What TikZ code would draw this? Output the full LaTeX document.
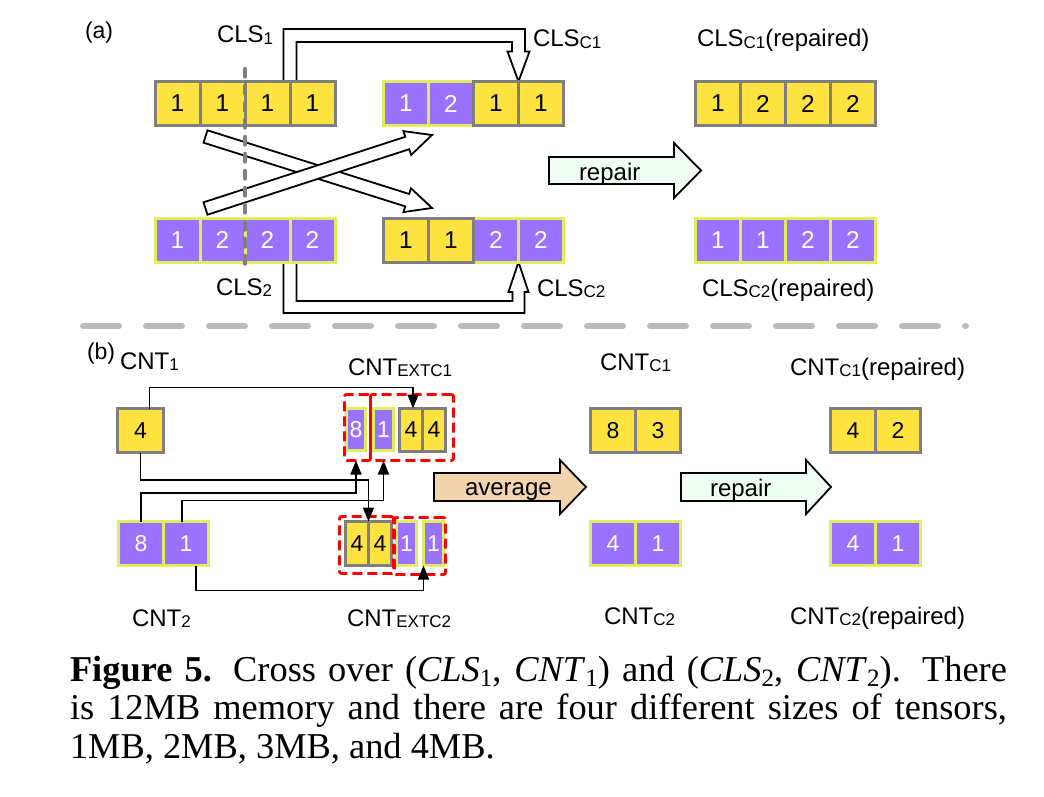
\documentclass[tikz,border=0pt]{standalone}
\usepackage{fontspec}
\setmainfont{Liberation Sans}
\newfontfamily\capfont{Liberation Serif}
\usetikzlibrary{calc,arrows.meta,backgrounds}
\definecolor{cyel}{HTML}{FFE341}
\definecolor{cpur}{HTML}{9B72FF}
\definecolor{cgry}{HTML}{7F7F7F}
\definecolor{cgrn}{HTML}{DFEE5C}
\definecolor{cmint}{HTML}{EEFEF3}
\definecolor{ctan}{HTML}{F2D5AE}
\definecolor{csep}{HTML}{BBBBBB}
\newcommand\lsub[1]{\raisebox{-0.8pt}{\fontsize{8.5}{9}\selectfont #1}}
\newcommand\capsub[1]{\raisebox{-0.35ex}{\fontsize{12.5}{12.5}\selectfont #1}}
\tikzset{
 cellbase/.style={rectangle, inner sep=0pt, outer sep=0pt, line width=1.5pt, font=\fontsize{12.2}{13}\selectfont, minimum width=22.5pt, minimum height=22pt},
 ycell/.style={cellbase, fill=cyel, draw=cgry, text=black},
 pcell/.style={cellbase, fill=cpur, draw=cgrn, text=white},
 bcell/.style={font=\fontsize{11.5}{12}\selectfont},
 lbl/.style={anchor=base west, inner sep=0pt, outer sep=0pt, font=\fontsize{12}{14}\selectfont},
 hollowarr/.style={draw=black, fill=white, line width=0.9pt, line join=miter},
 blockarr/.style={draw=black, line width=0.9pt, line join=miter},
 redbox/.style={draw=red, dash pattern=on 5pt off 2.5pt, line width=1.4pt, rounded corners=1pt, inner sep=0pt, outer sep=0pt, fill=none},
 conn/.style={draw=black, line width=0.8pt, -{Triangle[length=7pt,width=5.5pt]}},
 sepline/.style={draw=csep, line width=3pt, line cap=round, dash pattern=on 18pt off 13.5pt},
 vdashline/.style={draw=cgry, line width=2.25pt, line cap=round, dash pattern=on 3.75pt off 4.75pt},
 capstyle/.style={anchor=base west, inner sep=0pt, outer sep=0pt, font=\capfont\fontsize{18.2}{21}\selectfont},
}
\newcommand\slantarrow[2]{%
  \path ($(#2)!13pt!(#1)$) coordinate (tmpB);
  \filldraw[hollowarr] ($(#1)!3.25pt!90:(#2)$) -- ($(tmpB)!3.25pt!90:(#2)$) -- ($(tmpB)!6.25pt!90:(#2)$) -- (#2)
   -- ($(tmpB)!6.25pt!-90:(#2)$) -- ($(tmpB)!3.25pt!-90:(#2)$) -- ($(#1)!3.25pt!-90:(#2)$) -- cycle;
}
\begin{document}
\begin{tikzpicture}[x=0.5pt,y=-0.5pt]
\useasboundingbox (0,0) rectangle (1044,797);

% ---------------- (a) ----------------
\node[lbl, font=\fontsize{11.5}{13}\selectfont] (la) at (85,39) {(a)};
% CLS1
\foreach \i/\x in {1/177.5,2/222.5,3/267.5,4/312.5}
  \node[ycell] (a1c\i) at (\x,103.5) {1};
% CLSC1
\node[pcell] (c1c1) at (406,103.5) {1};
\node[pcell] (c1c2) at (451,103.5) {2};
\node[ycell] (c1c3) at (496,103.5) {1};
\node[ycell] (c1c4) at (541,103.5) {1};
% CLSC1 repaired
\node[ycell] (r1c1) at (718,103.5) {1};
\node[ycell] (r1c2) at (763,103.5) {2};
\node[ycell] (r1c3) at (808,103.5) {2};
\node[ycell] (r1c4) at (853,103.5) {2};
% CLS2
\node[pcell] (a2c1) at (177.5,240) {1};
\node[pcell] (a2c2) at (222.5,240) {2};
\node[pcell] (a2c3) at (267.5,240) {2};
\node[pcell] (a2c4) at (312.5,240) {2};
% CLSC2
\node[pcell] (c2c3) at (496,240) {2};
\node[pcell] (c2c4) at (541,240) {2};
\node[ycell] (c2c1) at (406,240) {1};
\node[ycell] (c2c2) at (451,240) {1};
% CLSC2 repaired
\node[pcell] (r2c1) at (718,240) {1};
\node[pcell] (r2c2) at (763,240) {1};
\node[pcell] (r2c3) at (808,240) {2};
\node[pcell] (r2c4) at (853,240) {2};

\node[lbl] (lcls1) at (217,43) {CLS\lsub{1}};
\node[lbl] (lclsc1) at (533,47) {CLS\lsub{C1}};
\node[lbl] (lclsr1) at (697,47) {CLS\lsub{C1}(repaired)};
\node[lbl] (lcls2) at (216,295) {CLS\lsub{2}};
\node[lbl] (lclsc2) at (537,296) {CLS\lsub{C2}};
\node[lbl] (lclsr2) at (702,296) {CLS\lsub{C2}(repaired)};

\begin{scope}[on background layer]
\filldraw[hollowarr] let \p1=(a1c3.north east), \p2=(c1c3.north east) in
 (\x1-3.25pt,\y1) -- (\x1-3.25pt,-14.5pt) -- (\x2+3.25pt,-14.5pt) -- (\x2+3.25pt,\y2+15pt)
 -- (\x2+5.5pt,\y2+15pt) -- (\x2,\y2) -- (\x2-5.5pt,\y2+15pt) -- (\x2-3.25pt,\y2+15pt)
 -- (\x2-3.25pt,-21pt) -- (\x1+3.25pt,-21pt) -- (\x1+3.25pt,\y1);
\filldraw[hollowarr] let \p1=(a2c3.south east), \p2=(c2c3.south east) in
 (\x1-3.25pt,\y1) -- (\x1-3.25pt,-156.5pt) -- (\x2+3pt,-156.5pt) -- (\x2+3pt,\y2-15pt)
 -- (\x2+5pt,\y2-15pt) -- (\x2,\y2) -- (\x2-5pt,\y2-15pt) -- (\x2-3pt,\y2-15pt)
 -- (\x2-3pt,-150.5pt) -- (\x1+3.25pt,-150.5pt) -- (\x1+3.25pt,\y1);
\end{scope}

% crossing arrows
\coordinate (xcT) at (205.5,136.5);
\coordinate (xcP) at (432,208);
\coordinate (xdT) at (205.5,208.5);
\coordinate (xdP) at (432,135);
\slantarrow{xcT}{xcP}
\slantarrow{xdT}{xdP}

% repair arrow (a)
\filldraw[blockarr, fill=cmint] (549,157) -- (674,157) -- (674,143) -- (701,170.5) -- (674,198) -- (674,184) -- (549,184) -- cycle;
\node[lbl] (trepa) at (579,180) {repair};

% dashed split line
\draw[vdashline] (245,69) -- (245,268);

% separator
\draw[sepline] (83,326) -- (966,326);

% ---------------- (b) ----------------
\node[lbl, font=\fontsize{11.5}{13}\selectfont] (lb) at (87,359) {(b)};
\node[lbl] (lcnt1) at (120,369) {CNT\lsub{1}};
\node[lbl] (lcntx1) at (348,375) {CNT\lsub{EXTC1}};
\node[lbl] (lcntc1) at (600,370) {CNT\lsub{C1}};
\node[lbl] (lcntr1) at (790,375) {CNT\lsub{C1}(repaired)};
\node[lbl] (lcnt2) at (132,626) {CNT\lsub{2}};
\node[lbl] (lcntx2) at (347,626) {CNT\lsub{EXTC2}};
\node[lbl] (lcntc2) at (604,624) {CNT\lsub{C2}};
\node[lbl] (lcntr2) at (790,624) {CNT\lsub{C2}(repaired)};

\node[ycell, bcell, minimum width=23pt] (cnt1) at (140.5,430.5) {4};
\node[pcell, bcell] (cnt2a) at (141,543.5) {8};
\node[pcell, bcell] (cnt2b) at (186,543.5) {1};

\node[pcell, bcell, minimum width=9.5pt, minimum height=21pt] (e1p8) at (356,429.5) {8};
\node[pcell, bcell, minimum width=10pt, minimum height=21pt] (e1p1) at (383.5,429.5) {1};
\node[ycell, bcell, minimum width=11.5pt, minimum height=21.5pt] (e1y1) at (411,430) {4};
\node[ycell, bcell, minimum width=11.5pt, minimum height=21.5pt] (e1y2) at (434,430) {4};

\node[ycell, bcell, minimum width=11.5pt] (e2y1) at (357,543.5) {4};
\node[ycell, bcell, minimum width=11.5pt] (e2y2) at (380,543.5) {4};
\node[pcell, bcell, minimum width=10pt] (e2p1) at (406.5,543.5) {1};
\node[pcell, bcell, minimum width=10pt] (e2p2) at (433.5,543.5) {1};

\node[redbox, minimum width=13pt, minimum height=33pt] (rb1a) at (357.5,427.5) {};
\node[redbox, minimum width=41.5pt, minimum height=33pt] (rb1b) at (412,427.5) {};
\node[redbox, minimum width=27pt, minimum height=28.5pt] (rb2a) at (366.5,545) {};
\node[redbox, minimum width=25.5pt, minimum height=28.5pt] (rb2b) at (420,546) {};

\node[ycell, bcell] (cc1a) at (613,430.5) {8};
\node[ycell, bcell] (cc1b) at (658,430.5) {3};
\node[ycell, bcell] (cr1a) at (853,430.5) {4};
\node[ycell, bcell] (cr1b) at (898,430.5) {2};
\node[pcell, bcell] (cc2a) at (613,543.5) {4};
\node[pcell, bcell] (cc2b) at (658,543.5) {1};
\node[pcell, bcell] (cr2a) at (853,543.5) {4};
\node[pcell, bcell] (cr2b) at (898,543.5) {1};

% average / repair arrows (b)
\filldraw[blockarr, fill=ctan] (434,473) -- (560,473) -- (560,460) -- (586,487) -- (560,514) -- (560,501) -- (434,501) -- cycle;
\node[lbl] (tavg) at (465,495) {average};
\filldraw[blockarr, fill=cmint] (681,473) -- (806,473) -- (806,460) -- (831,487) -- (806,514) -- (806,501) -- (681,501) -- cycle;
\node[lbl] (trepb) at (710,496) {repair};

% connectors
\draw[conn] ($(cnt1.north)+(9,0)$) -- ++(0,-21) -| ($(e1y1.north)+(2,0)$);
\draw[conn] (cnt1.south) -- ++(0,27.5) -| (e2y1.north east);
\draw[conn] (cnt2a.north) -- ++(0,-28.5) -| (e1p8.south |- rb1a.south);
\draw[conn] ($(cnt2b.north)+(-4,0)$) -- ++(0,-21) -| (e1p1.south |- rb1b.south);
\draw[conn] ($(cnt2b.south)+(10,0)$) -- ++(0,25) -| (e2p2.south west);

% ---------------- caption ----------------
\node[capstyle] (cap1) at (70,681) {\makebox[468.5pt][s]{\textbf{Figure 5.} Cross over (\textit{CLS}\capsub{1}, \textit{CNT}\capsub{1}) and (\textit{CLS}\capsub{2}, \textit{CNT}\capsub{2}). There}};
\node[capstyle] (cap2) at (70,719.5) {\makebox[468.5pt][s]{is 12MB memory and there are four different sizes of tensors,}};
\node[capstyle] (cap3) at (70,758) {1MB, 2MB, 3MB, and 4MB.};
\end{tikzpicture}
\end{document}
